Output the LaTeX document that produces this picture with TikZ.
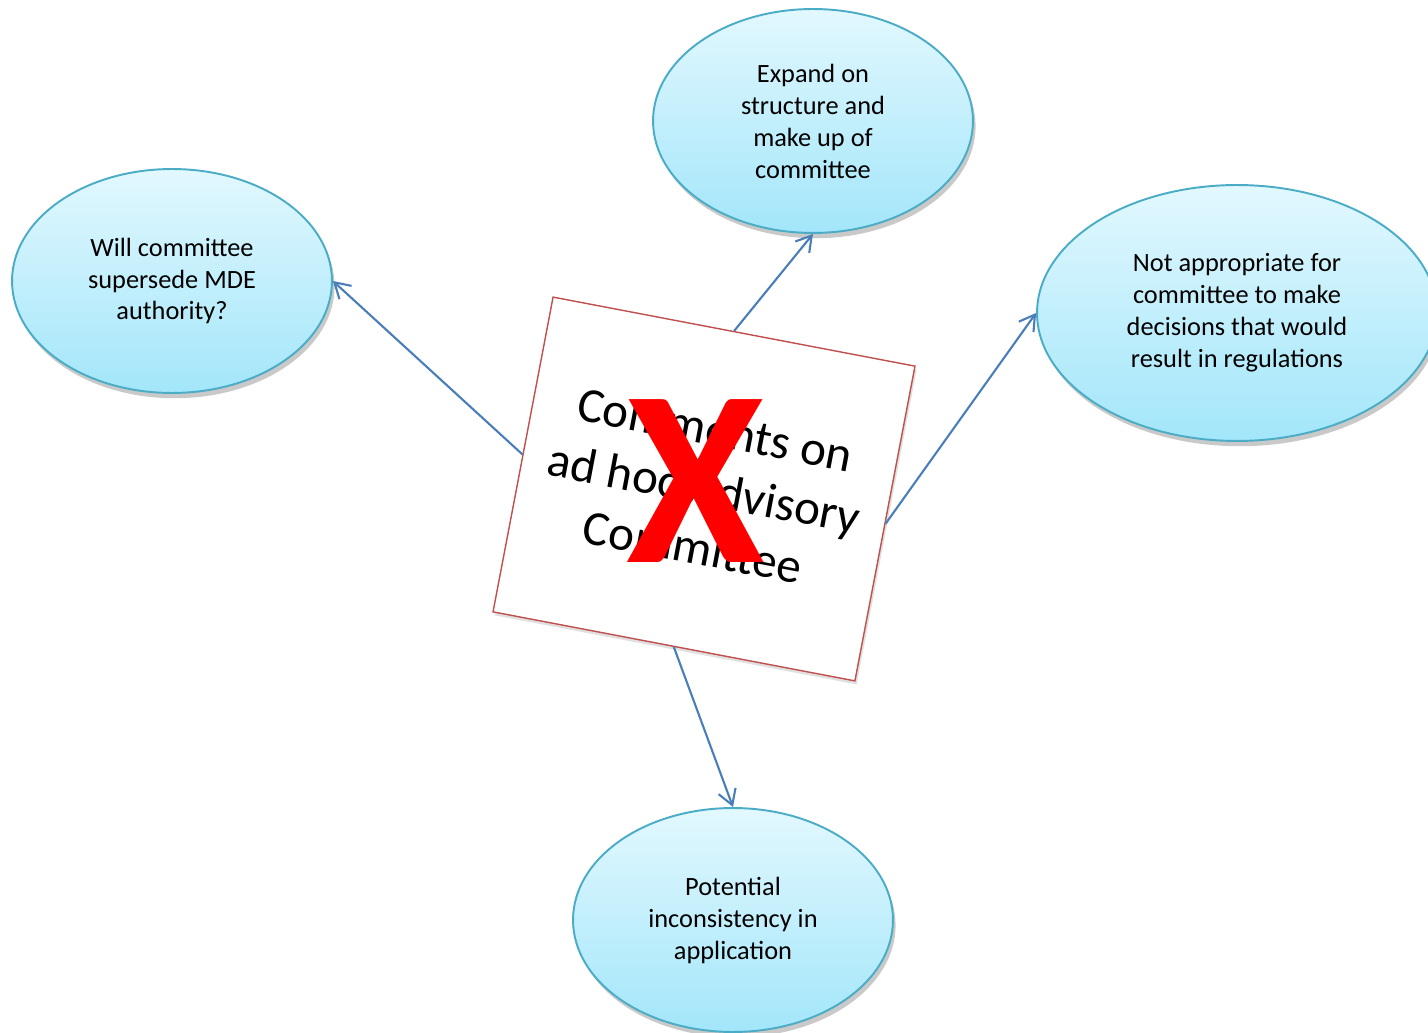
\documentclass[tikz,border=0pt]{standalone}
\usepackage{fontspec}
\setmainfont{Carlito}
\usetikzlibrary{arrows.meta,shapes.geometric,shadows}

\definecolor{bubbleline}{HTML}{4BACC6}
\definecolor{bubbletop}{HTML}{E2F8FE}
\definecolor{bubblebottom}{HTML}{A3E6FA}
\definecolor{linkblue}{HTML}{4A7EBB}
\definecolor{boxline}{HTML}{C0504D}
\definecolor{crossred}{HTML}{FF0000}

\begin{document}
\begin{tikzpicture}[x=0.02cm, y=-0.02cm,
    bubble/.style={ellipse, draw=bubbleline, line width=1.1pt, top color=bubbletop, bottom color=bubblebottom,
        minimum width=6.4cm, minimum height=4.48cm, inner sep=0pt, align=center,
        font=\fontsize{15}{18.2}\selectfont,
        drop shadow={shadow xshift=1.5pt, shadow yshift=-3pt, opacity=0.3, fill=black!70}},
    link/.style={draw=linkblue, line width=1.2pt, -{Straight Barb[length=3mm, width=3.6mm]}}]

         \useasboundingbox (0,0) rectangle (1428,1033);
         \clip (0,0) rectangle (1428,1033);

         \node [bubble] (expand)      at (813,121)  {Expand on\\structure and\\make up of\\committee};
         \node [bubble] (supersede)   at (172,281)  {Will committee\\supersede MDE\\authority?};
         \node [bubble, minimum width=8cm, minimum height=5.12cm] (regulations) at (1237,313) {Not appropriate for\\committee to make\\decisions that would\\result in regulations};
         \node [bubble] (inconsistency) at (733,920) {Potential\\inconsistency in\\application};

         \node [rectangle, draw=boxline, line width=0.8pt, fill=white, rotate=-10.8,
                minimum width=7.37cm, minimum height=6.41cm, align=center,
                font=\fontsize{28}{34}\selectfont,
                drop shadow={shadow xshift=1pt, shadow yshift=-2pt, opacity=0.2, fill=black!60}]
                (comments) at (704,489) {Comments on\\ad hoc Advisory\\Committee};

         \node [text=crossred, inner sep=0pt, font=\fontsize{143}{143}\selectfont\bfseries] (cross) at (696,481) {X};

         \draw [link] (comments.north) -- (expand.south);
         \draw [link] (comments.west)  -- (supersede.east);
         \draw [link] (comments.east)  -- (regulations.west);
         \draw [link] (comments.south) -- (inconsistency.north);

\end{tikzpicture}
\end{document}
